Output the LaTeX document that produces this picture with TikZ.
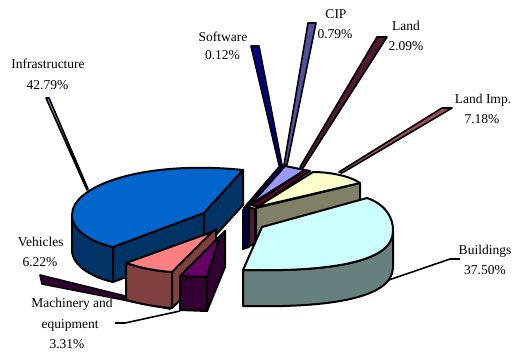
\documentclass[tikz,border=0pt]{standalone}
\usepackage{fontspec}
\setmainfont{Liberation Serif}
\definecolor{infraTop}{HTML}{0066CC}
\definecolor{infraSide}{HTML}{003366}
\definecolor{vehTop}{HTML}{FF8080}
\definecolor{vehSide}{HTML}{804040}
\definecolor{machTop}{HTML}{660066}
\definecolor{machSide}{HTML}{330033}
\definecolor{bldTop}{HTML}{CCFFFF}
\definecolor{bldSide}{HTML}{668080}
\definecolor{limpTop}{HTML}{FFFFCC}
\definecolor{limpSide}{HTML}{808066}
\definecolor{cipTop}{HTML}{9999FF}
\definecolor{cipLead}{HTML}{5050A0}
\definecolor{landTop}{HTML}{660033}
\definecolor{landSide}{HTML}{4D1A33}
\definecolor{softTop}{HTML}{000080}
\definecolor{softSide}{HTML}{000040}
\definecolor{infraLead}{HTML}{9999CC}
\definecolor{limpLead}{HTML}{A05050}
\begin{document}
\begin{tikzpicture}[x=1pt,y=-1pt,line join=round,
  edge/.style={draw=black,line width=2pt},
  leader/.style={draw=black,line width=1.6pt},
  lbl/.style={anchor=base,inner sep=0pt,font=\fontsize{13.5}{16}\selectfont}]
\useasboundingbox (0,0) rectangle (512,354);

% ---------- labels ----------
\node[lbl] (soft)   at (223,41)   {Software};
\node[lbl] (softp)  at (222.5,59.5) {0.12\%};
\node[lbl] (cip)    at (336,18)   {CIP};
\node[lbl] (cipp)   at (335,38)   {0.79\%};
\node[lbl] (land)   at (406,30.5) {Land};
\node[lbl] (landp)  at (406,50.5) {2.09\%};
\node[lbl] (limp)   at (483,103)  {Land Imp.};
\node[lbl] (limpp)  at (482,123)  {7.18\%};
\node[lbl] (infra)  at (48,68.5)  {Infrastructure};
\node[lbl] (infrap) at (47.5,89.5) {42.79\%};
\node[lbl] (bld)    at (485,254.5) {Buildings};
\node[lbl] (bldp)   at (485,274.5) {37.50\%};
\node[lbl] (veh)    at (40.7,246) {Vehicles};
\node[lbl] (vehp)   at (40,266)   {6.22\%};
\node[lbl] (mach)   at (72,307.5) {Machinery and};
\node[lbl] (mach2)  at (70,328)   {equipment};
\node[lbl] (machp)  at (67,348.5) {3.31\%};

% ---------- leader lines ----------
\filldraw[leader,fill=softTop]   (251,46) -- (259,46) -- (282,165) -- (279,165) -- cycle;
\filldraw[leader,fill=cipLead]   (308,23) -- (316,23) -- (287,165) -- (284,165) -- cycle;
\filldraw[leader,fill=landSide]  (377,37) -- (387,37) -- (303,168) -- (300,167) -- cycle;
\filldraw[leader,fill=limpLead]  (442,108) -- (452,108) -- (342,173) -- (339,172) -- cycle;
\filldraw[leader,fill=infraLead] (46,98) -- (49,98) -- (88,189) -- (87,190) -- cycle;
\filldraw[leader,fill=machSide]  (40,275) -- (42,284) -- (170,309) -- (170,307) -- cycle;
\coordinate (machEnd) at (180,311);
\coordinate (bldEnd) at (380,283);
\draw[leader] (115,323) -- (125,323) -- (machEnd);
\draw[leader] (460,259) -- (450,259) -- (bldEnd);

% ---------- small slices (software, CIP, land) ----------
\filldraw[edge,fill=softSide] (243,210) -- (249,205) -- (249,247) -- (243,249) -- cycle;
\filldraw[edge,fill=landSide] (249,207) -- (255,209) -- (255,244) -- (249,246) -- cycle;
\filldraw[edge,fill=softTop]  (244,208) -- (280,166) -- (285,166) -- (250,205) -- cycle;
\filldraw[edge,fill=cipTop]   (251,204) -- (285,166) -- (305,170) -- cycle;
\filldraw[edge,fill=landTop]  (252,205) -- (305,170) -- (310,171) -- (257,207) -- cycle;

% ---------- land improvements ----------
\filldraw[edge,fill=limpSide] (256,208) -- (360,183) -- (360,217) -- (256,243) -- cycle;
\filldraw[edge,fill=limpTop]  (257,207) -- (313,172) .. controls (330,172) and (350,176) .. (360,183) -- cycle;

% ---------- infrastructure ----------
\filldraw[edge,fill=infraSide] (72,215) -- (72,250) .. controls (72,267) and (95,278) .. (113,282)
   -- (113,247) .. controls (95,243) and (72,232) .. (72,215) -- cycle;
\filldraw[edge,fill=infraSide] (113,247) -- (204,213) -- (204,248) -- (113,282) -- cycle;
\filldraw[edge,fill=infraSide] (204,213) -- (243,170) -- (243,205) -- (204,248) -- cycle;
\filldraw[edge,fill=infraTop] (204,213) -- (243,170) .. controls (145,160) and (72,185) .. (72,215)
   .. controls (72,232) and (95,243) .. (113,247) -- cycle;

% ---------- buildings ----------
\filldraw[edge,fill=bldSide] (393,232) .. controls (392,262) and (330,272) .. (243,270)
   -- (243,306) .. controls (330,308) and (392,298) .. (393,268) -- cycle;
\filldraw[edge,fill=bldTop] (243,270) -- (262,227) -- (367,198)
   .. controls (385,204) and (394,218) .. (393,232)
   .. controls (392,262) and (330,272) .. (243,270) -- cycle;

% ---------- vehicles ----------
\filldraw[edge,fill=vehSide] (126,263) .. controls (141,268) and (156,271) .. (172,272)
   -- (172,308) .. controls (156,307) and (141,304) .. (126,300) -- cycle;
\filldraw[edge,fill=vehSide] (172,272) -- (212,232) -- (216,229) -- (216,266) -- (172,308) -- cycle;
\filldraw[edge,fill=vehTop] (126,263) -- (212,232) -- (172,272)
   .. controls (156,271) and (141,268) .. (126,263) -- cycle;

% ---------- machinery and equipment ----------
\filldraw[edge,fill=machSide] (180,276) -- (207,277) -- (207,311) -- (180,310) -- cycle;
\filldraw[edge,fill=machSide] (207,277) -- (220,236) -- (225,231) -- (225,267) -- (207,311) -- cycle;
\filldraw[edge,fill=machTop] (180,276) -- (220,236) -- (207,277) -- cycle;
\end{tikzpicture}
\end{document}
